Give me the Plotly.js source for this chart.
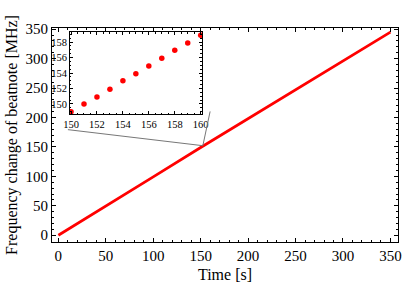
<!DOCTYPE html>
<html><head><meta charset="utf-8">
<script src="https://cdn.plot.ly/plotly-3.0.1.min.js"></script>
<style>html,body{margin:0;padding:0;background:#fff}#c{width:409px;height:287px}</style>
</head><body><div id="c"></div>
<script>
// Main series: time [s] vs frequency change [MHz]
const mainTime = [0, 50, 100, 150, 200, 250, 300, 350];
const mainFreq = [0, 49, 99, 149, 198, 247, 296, 345];
// Inset series (zoom 150-160 s)
const insetTime = [150, 151, 152, 153, 154, 155, 156, 157, 158, 159, 160];
const insetFreq = [149.0, 150.0, 150.9, 151.9, 153.0, 153.9, 154.9, 155.9, 156.95, 157.9, 158.9];
const xTicks = [0, 50, 100, 150, 200, 250, 300, 350];
const yTicks = [0, 50, 100, 150, 200, 250, 300, 350];
const insetXTicks = [150, 152, 154, 156, 158, 160];
const insetYTicks = [150, 152, 154, 156, 158];

const serif = "Liberation Serif, Times New Roman, serif";
const axBase = {
  showline: true, linecolor: '#000', linewidth: 1, mirror: 'allticks',
  ticks: 'inside', ticklen: 4, tickwidth: 1, tickcolor: '#000',
  showgrid: false, zeroline: false,
  tickfont: {family: serif, size: 15, color: '#000'}
};
const traces = [
  {x: mainTime, y: mainFreq, type: 'scatter', mode: 'lines',
   line: {color: '#ff0000', width: 2.7}, xaxis: 'x', yaxis: 'y', hoverinfo: 'skip'},
  {x: insetTime, y: insetFreq, type: 'scatter', mode: 'markers',
   marker: {color: '#ff0000', size: 5.5}, xaxis: 'x2', yaxis: 'y2', hoverinfo: 'skip'}
];
const layout = {
  width: 409, height: 287, showlegend: false,
  paper_bgcolor: '#fff', plot_bgcolor: '#fff',
  margin: {l: 52, r: 11, t: 28, b: 45},
  xaxis: Object.assign({}, axBase, {
    range: [-6.7, 358], tickvals: xTicks, ticktext: xTicks.map(String),
    minor: {dtick: 10, ticklen: 2, ticks: 'inside', tickcolor: '#000'},
    title: {text: 'Time [s]', font: {family: serif, size: 16, color: '#000'}, standoff: 5},
    domain: [0, 1]
  }),
  yaxis: Object.assign({}, axBase, {
    range: [-11.5, 352], tickvals: yTicks, ticktext: yTicks.map(String),
    minor: {dtick: 10, ticklen: 2, ticks: 'inside', tickcolor: '#000'},
    title: {text: 'Frequency change of beatnote [MHz]', font: {family: serif, size: 16, color: '#000'}, standoff: 3},
    domain: [0, 1]
  }),
  xaxis2: Object.assign({}, axBase, {
    anchor: 'y2', domain: [0.052, 0.4335], range: [149.92, 160.1],
    tickvals: insetXTicks, ticktext: insetXTicks.map(String), ticklen: 3,
    minor: {dtick: 0.5, ticklen: 1.5, ticks: 'inside', tickcolor: '#000'},
    tickfont: {family: serif, size: 10.5, color: '#000'}
  }),
  yaxis2: Object.assign({}, axBase, {
    anchor: 'x2', domain: [0.598, 0.981], range: [148.7, 159.3],
    tickvals: insetYTicks, ticktext: insetYTicks.map(String), ticklen: 3,
    minor: {dtick: 0.5, ticklen: 1.5, ticks: 'inside', tickcolor: '#000'},
    tickfont: {family: serif, size: 10.5, color: '#000'}
  }),
  shapes: [
    {type: 'line', xref: 'paper', yref: 'paper', x0: 0.046, y0: 0.525, x1: 0.436, y1: 0.45,
     line: {color: '#777', width: 1}},
    {type: 'line', xref: 'paper', yref: 'paper', x0: 0.457, y0: 0.61, x1: 0.436, y1: 0.45,
     line: {color: '#777', width: 1}}
  ]
};
Plotly.newPlot('c', traces, layout, {staticPlot: true, displayModeBar: false});
</script></body></html>
